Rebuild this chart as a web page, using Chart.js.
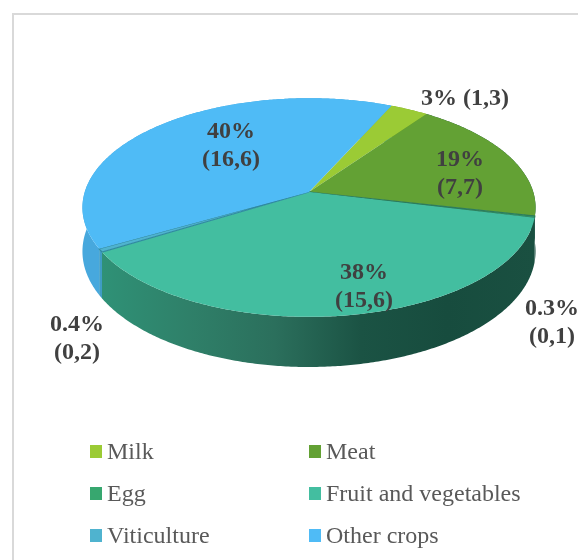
<!DOCTYPE html>
<html>
<head>
    <title>Pie chart</title>
    <meta charset="UTF-8">
    <style>
        body { margin: 0; padding: 0; background: #fff; }
        #frame { position: absolute; left: 12px; top: 13px; width: 566px; height: 547px; border: solid #d9d9d9; border-width: 2px 0 0 2px; }
        #chart-container { position: absolute; left: 0; top: 0; width: 578px; height: 560px; }
    </style>
</head>
<body>
    <div id="frame"></div>
    <div id="chart-container">
        <canvas id="pieChart" width="578" height="560"></canvas>
    </div>

    <script src="https://cdn.jsdelivr.net/npm/chart.js"></script>
    <script>
        const categories = ['Milk', 'Meat', 'Egg', 'Fruit and vegetables', 'Viticulture', 'Other crops'];
        const values = [1.3, 7.7, 0.1, 15.6, 0.2, 16.6];
        const shares = ['3%', '19%', '0.3%', '38%', '0.4%', '40%'];
        const valueTexts = ['(1,3)', '(7,7)', '(0,1)', '(15,6)', '(0,2)', '(16,6)'];
        const colors = ['#9bcb35', '#63a134', '#37a76f', '#43bea0', '#4fb3cf', '#4fbbf6'];
        const sideColors = [
            ['#7da82a', '#7da82a'],
            ['#1a5041', '#1a5041'],
            ['#1a5041', '#1a5041'],
            ['#2f9176', '#2f8069', '#2b6f5c', '#1b5344', '#174c3e', '#1a5041'],
            ['#3f9cc4', '#3f9cc4'],
            ['#47a8dd', '#47a8dd']
        ];
        // the two thin slices read as dark seams in the picture
        const seamColors = [null, null, '#2c7c5c', null, '#2f8aa0', null];

        // where each label sits, one or two lines
        const labelSpots = [[465, 98], [460, 159], [552, 308], [364, 272], [77, 324], [231, 131]];
        const legendSpots = [[90, 452], [309, 452], [90, 494], [309, 494], [90, 536], [309, 536]];

        // perspective of the tilted disc
        const tilt = 0.142;
        const stretchX = 1.168;
        const stretchY = 0.558;
        const depth = 0.224;

        function project(arc, angle, drop) {
            const u = Math.cos(angle), v = Math.sin(angle);
            const w = 1 - tilt * v;
            const r = arc.outerRadius;
            return {
                x: arc.x + r * stretchX * u / w,
                y: arc.y + r * stretchY * v / w + (drop ? r * depth / w : 0)
            };
        }

        function trace(ctx, arc, from, to, drop, first) {
            const steps = Math.max(2, Math.ceil(Math.abs(to - from) / 0.01));
            for (let i = 0; i <= steps; i++) {
                const p = project(arc, from + (to - from) * i / steps, drop);
                if (i === 0 && first) ctx.moveTo(p.x, p.y); else ctx.lineTo(p.x, p.y);
            }
        }

        const disc3d = {
            id: 'disc3d',
            beforeDatasetDraw(chart) {
                const ctx = chart.ctx;
                const arcs = chart.getDatasetMeta(0).data;

                // walls first, the top faces cover the hidden part
                arcs.forEach((arc, i) => {
                    const stops = sideColors[i];
                    const g = ctx.createLinearGradient(103, 0, 533, 0);
                    stops.forEach((c, j) => g.addColorStop(j / (stops.length - 1), c));
                    ctx.beginPath();
                    trace(ctx, arc, arc.startAngle, arc.endAngle, false, true);
                    trace(ctx, arc, arc.endAngle, arc.startAngle, true, false);
                    ctx.closePath();
                    ctx.fillStyle = g;
                    ctx.fill();
                });

                arcs.forEach((arc, i) => {
                    ctx.beginPath();
                    ctx.moveTo(arc.x, arc.y);
                    trace(ctx, arc, arc.startAngle, arc.endAngle, false, false);
                    ctx.closePath();
                    ctx.fillStyle = colors[i];
                    ctx.fill();
                    if (seamColors[i]) {
                        ctx.strokeStyle = seamColors[i];
                        ctx.lineWidth = 1.2;
                        ctx.stroke();
                    }
                });
                return false;
            },
            afterDraw(chart) {
                const ctx = chart.ctx;
                ctx.textAlign = 'center';
                ctx.textBaseline = 'middle';
                ctx.fillStyle = '#404040';
                ctx.font = 'bold 24px "Liberation Serif"';
                shares.forEach((s, i) => {
                    const [x, y] = labelSpots[i];
                    if (i === 0) ctx.fillText(s + ' ' + valueTexts[i], x, y + 1);
                    else {
                        ctx.fillText(s, x, y + 1);
                        ctx.fillText(valueTexts[i], x, y + 29);
                    }
                });

                ctx.textAlign = 'left';
                ctx.font = '24px "Liberation Serif"';
                categories.forEach((c, i) => {
                    const [x, y] = legendSpots[i];
                    ctx.fillStyle = colors[i];
                    ctx.fillRect(x, y - 7, 12, 13);
                    ctx.fillStyle = '#595959';
                    ctx.fillText(c, x + 17, y + 1);
                });
            }
        };

        new Chart(document.getElementById('pieChart').getContext('2d'), {
            type: 'pie',
            data: {
                labels: categories,
                datasets: [{ data: values, backgroundColor: colors, borderWidth: 0 }]
            },
            options: {
                responsive: false,
                animation: false,
                rotation: 24.5,
                layout: { padding: { left: 117, right: 77, top: 0, bottom: 176 } },
                plugins: { legend: { display: false }, tooltip: { enabled: false } }
            },
            plugins: [disc3d]
        });
    </script>
</body>
</html>
